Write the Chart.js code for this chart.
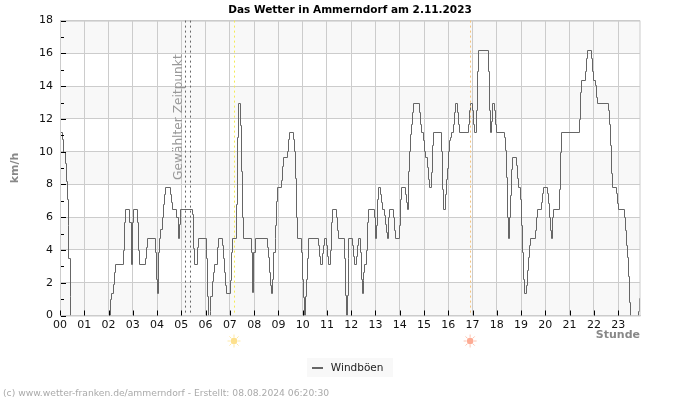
<!DOCTYPE html>
<html>
<head>
<meta charset="utf-8">
<title>Das Wetter in Ammerndorf</title>
<script src="https://cdn.jsdelivr.net/npm/chart.js@4"></script>
<style>
    html, body { margin: 0; background: #fff; }
    #wrap { width: 700px; height: 400px; }
</style>
</head>
<body>
<div id="wrap"><canvas id="chart"></canvas></div>
<script>
const chartTitle = 'Das Wetter in Ammerndorf am 2.11.2023';
const footerText = '(c) www.wetter-franken.de/ammerndorf - Erstellt: 08.08.2024 06:20:30';
const seriesName = 'Windböen';
const hourLabels = ['00', '01', '02', '03', '04', '05', '06', '07', '08', '09', '10', '11',
    '12', '13', '14', '15', '16', '17', '18', '19', '20', '21', '22', '23'];

// time the value changes (hours); null = no line drawn
const gustHours = [
    0, 0.02, 0.09, 0.14, 0.19, 0.23, 0.27, 0.31, 0.35, 0.40, 0.42, 0.43,
    2.04, 2.05, 2.10, 2.18, 2.22, 2.26, 2.59, 2.65, 2.69, 2.84, 2.91, 2.95, 3.00, 3.17, 3.21, 3.25, 3.51, 3.56, 3.60, 3.91, 3.95, 3.99,
    4.03, 4.07, 4.14, 4.19, 4.23, 4.27, 4.31, 4.52, 4.56, 4.60, 4.79, 4.85, 4.89, 4.94, 5.42, 5.46, 5.52, 5.64, 5.70, 6.03, 6.07, 6.11, 6.13,
    6.16, 6.17, 6.20, 6.26, 6.30, 6.36, 6.46, 6.52, 6.67, 6.71, 6.75, 6.81, 6.85, 7.00, 7.04, 7.10, 7.26, 7.30, 7.35, 7.43, 7.47, 7.51, 7.55, 7.88, 7.92, 7.96,
    8.05, 8.54, 8.58, 8.62, 8.66, 8.71, 8.75, 8.79, 8.84, 8.87, 8.91, 8.95, 9.12, 9.16, 9.20, 9.36, 9.41, 9.45, 9.60, 9.64, 9.69, 9.74, 9.78, 9.93, 9.97,
    10.01, 10.05, 10.07, 10.09, 10.10, 10.13, 10.17, 10.21, 10.63, 10.67, 10.72, 10.81, 10.85, 10.89, 10.97, 11.00, 11.04, 11.12, 11.16, 11.20, 11.37, 11.41, 11.45, 11.71, 11.75, 11.80, 11.81, 11.85, 11.88,
    12.03, 12.07, 12.11, 12.19, 12.23, 12.27, 12.36, 12.40, 12.44, 12.47, 12.50, 12.54, 12.62, 12.66, 12.70, 12.93, 12.97,
    13.02, 13.06, 13.10, 13.18, 13.22, 13.26, 13.34, 13.39, 13.43, 13.47, 13.51, 13.55, 13.72, 13.76, 13.80, 13.96,
    14.00, 14.05, 14.21, 14.25, 14.29, 14.33, 14.37, 14.42, 14.46, 14.50, 14.54, 14.79, 14.83, 14.87, 14.95, 14.99,
    15.03, 15.12, 15.16, 15.20, 15.28, 15.32, 15.36, 15.69, 15.73, 15.78, 15.86, 15.90, 15.94, 15.98,
    16.02, 16.06, 16.12, 16.19, 16.23, 16.27, 16.35, 16.39, 16.43, 16.81, 16.85, 16.89, 16.97,
    17.01, 17.05, 17.13, 17.18, 17.22, 17.63, 17.67, 17.71, 17.75, 17.79, 17.88, 17.92, 17.96,
    18.29, 18.33, 18.37, 18.41, 18.45, 18.49, 18.54, 18.58, 18.62, 18.78, 18.82, 18.87, 18.95, 18.99,
    19.03, 19.07, 19.11, 19.20, 19.24, 19.28, 19.32, 19.36, 19.57, 19.61, 19.65, 19.81, 19.85, 19.90,
    20.06, 20.10, 20.14, 20.18, 20.22, 20.27, 20.31, 20.55, 20.60, 20.64,
    21.38, 21.42, 21.46, 21.63, 21.67, 21.71, 21.87, 21.91, 21.96,
    22.04, 22.08, 22.12, 22.57, 22.61, 22.66, 22.70, 22.74, 22.90, 22.94, 22.99,
    23.23, 23.27, 23.32, 23.36, 23.40, 23.44, 23.48, 23.50,
    23.81, 23.82, 23.85, 23.90
];
const gustKmh = [
    11.2, 11.2, 10.8, 10.0, 9.3, 8.2, 7.1, 5.5, 3.5, 1.2, 0, null,
    0, 1.0, 1.4, 1.9, 2.65, 3.15, 4.0, 5.7, 6.5, 5.7, 3.15, 5.7, 6.5, 5.7, 4.0, 3.15, 3.5, 4.2, 4.7, 3.9, 2.2, 1.35,
    3.9, 4.7, 5.3, 6.0, 6.8, 7.4, 7.85, 7.4, 6.9, 6.5, 6.0, 4.7, 5.6, 6.5, 6.2, 4.1, 3.15, 4.2, 4.7, 3.5, 1.2, 0, null,
    0, 0.3, 1.2, 2.1, 2.65, 3.15, 4.2, 4.7, 4.3, 3.5, 2.65, 1.85, 1.4, 2.15, 3.85, 4.7, 6.8, 10.9, 13, 11.6, 8.85, 6.0, 4.7, 3.85, 1.45, 3.85,
    4.7, 4.2, 3.6, 2.65, 1.85, 1.4, 2.25, 3.85, 4.7, 5.5, 7.0, 7.85, 8.3, 9.15, 9.7, 10.05, 10.75, 11.2, 10.75, 10.05, 8.4, 6.0, 4.7, 3.85, 2.2,
    1.1, 0, null, 0, 1.2, 2.25, 3.5, 4.7, 4.3, 3.65, 3.15, 3.8, 4.3, 4.7, 4.3, 3.65, 3.15, 4.0, 5.7, 6.5, 6.0, 5.2, 4.7, 3.5, 1.25, 0, 1.25, 3.5, 4.7,
    4.3, 3.65, 3.15, 3.65, 4.3, 4.7, 3.9, 2.25, 1.4, 2.15, 2.65, 3.15, 4.0, 5.7, 6.5, 6.0, 4.7,
    5.5, 7.1, 7.85, 7.4, 6.9, 6.5, 6.15, 5.6, 5.1, 4.7, 6.0, 6.5, 6.0, 5.2, 4.7, 5.5,
    7.1, 7.85, 7.4, 6.9, 6.5, 8.85, 10.05, 11.1, 11.7, 12.45, 13, 12.45, 11.7, 11.2, 10.7, 10.05,
    9.7, 9.05, 8.35, 7.85, 8.75, 10.4, 11.2, 10.05, 7.7, 6.5, 7.4, 8.35, 9.0, 10.05,
    10.7, 10.9, 11.2, 11.7, 12.4, 13, 12.45, 11.7, 11.2, 11.7, 12.55, 13, 12.55,
    11.7, 11.2, 12.55, 14.95, 16.2, 14.95, 12.55, 11.2, 11.9, 13, 12.55, 11.7, 11.2,
    10.9, 10.1, 8.45, 6.0, 4.7, 6.0, 7.35, 8.95, 9.7, 9.2, 8.4, 7.85, 7.1, 5.5,
    3.9, 2.25, 1.4, 1.85, 2.75, 3.6, 4.3, 4.7, 5.2, 6.0, 6.5, 6.95, 7.45, 7.85,
    7.45, 6.85, 6.0, 5.2, 4.7, 6.0, 6.5, 7.75, 10, 11.2,
    12, 13.65, 14.4, 14.9, 15.7, 16.2, 15.7, 14.9, 14.4,
    14.05, 13.35, 13, 12.55, 11.7, 10.4, 8.7, 7.85, 7.45, 6.85, 6.5,
    6.0, 5.2, 4.3, 3.6, 2.4, 0.85, 0, null,
    0, 0.3, 1.05, 1.05
];

const yMax = 18;
const yStep = 2;
const xEnd = 23.9;
const shadedBands = [[0, 2], [4, 6], [8, 10], [12, 14], [16, 18]];
const yMinorTicks = [1, 3, 5, 7, 9, 11, 13, 15, 17];
const selectedHours = [5.17, 5.35];
const sunriseHour = 7.17;
const sunsetHour = 16.9;

const gustPoints = gustHours.map((h, i) => ({x: h, y: gustKmh[i]}));

const fontName = '"DejaVu Sans", sans-serif';

function legendSwatch() {
    const c = document.createElement('canvas');
    c.width = 11;
    c.height = 2;
    const g = c.getContext('2d');
    g.fillStyle = '#666666';
    g.fillRect(0, 0, 11, 2);
    return c;
}

function drawSun(ctx, x, y, core, ray) {
    ctx.save();
    ctx.strokeStyle = ray;
    ctx.lineWidth = 1;
    for (let i = 0; i < 8; i++) {
        const a = i * Math.PI / 4;
        ctx.beginPath();
        ctx.moveTo(x + Math.cos(a) * 3.5, y + Math.sin(a) * 3.5);
        ctx.lineTo(x + Math.cos(a) * 6.5, y + Math.sin(a) * 6.5);
        ctx.stroke();
    }
    ctx.fillStyle = core;
    ctx.beginPath();
    ctx.arc(x, y, 3.2, 0, Math.PI * 2);
    ctx.fill();
    ctx.restore();
}

const backdrop = {
    id: 'backdrop',
    afterLayout(chart) {
        chart.legend.left -= 4;
        chart.legend.right -= 4;
    },
    // keep the step line on whole pixels, the way the original is drawn
    afterDatasetsUpdate(chart) {
        chart.getDatasetMeta(0).data.forEach(p => {
            p.x = Math.round(p.x) + 0.5;
            if (!p.skip) {
                p.y = Math.round(p.y) + 0.5;
            }
        });
    },
    beforeDraw(chart) {
        const ctx = chart.ctx;
        const area = chart.chartArea;
        const y = chart.scales.y;
        ctx.save();
        ctx.fillStyle = '#f8f8f8';
        shadedBands.forEach(b => {
            const top = y.getPixelForValue(b[1]);
            ctx.fillRect(area.left, top, area.width, y.getPixelForValue(b[0]) - top);
        });
        // legend plate
        ctx.fillRect(307, 358, 86, 19);
        ctx.restore();
    },
    afterDatasetsDraw(chart) {
        const ctx = chart.ctx;
        const area = chart.chartArea;
        const x = chart.scales.x;
        const y = chart.scales.y;
        ctx.save();
        ctx.lineWidth = 1;

        // frame
        ctx.strokeStyle = '#cccccc';
        ctx.strokeRect(area.left + 0.5, area.top + 0.5, area.width - 0.5, area.height);

        // short black ticks inside the plot
        ctx.strokeStyle = '#000000';
        ctx.beginPath();
        x.ticks.forEach(t => {
            const px = Math.round(x.getPixelForValue(t.value)) + 0.5;
            ctx.moveTo(px, area.bottom);
            ctx.lineTo(px, area.bottom - 5);
        });
        y.ticks.forEach(t => {
            const py = Math.round(y.getPixelForValue(t.value)) + 0.5;
            ctx.moveTo(area.left + 1, py);
            ctx.lineTo(area.left + 6, py);
        });
        yMinorTicks.forEach(v => {
            const py = Math.round(y.getPixelForValue(v)) + 0.5;
            ctx.moveTo(area.left + 1, py);
            ctx.lineTo(area.left + 4, py);
        });
        ctx.stroke();

        // marked times
        ctx.setLineDash([2, 3]);
        ctx.strokeStyle = '#666666';
        selectedHours.forEach(h => {
            const px = Math.round(x.getPixelForValue(h)) + 0.5;
            ctx.beginPath();
            ctx.moveTo(px, area.top);
            ctx.lineTo(px, area.bottom);
            ctx.stroke();
        });
        [[sunriseHour, '#f5ea55'], [sunsetHour, '#f5c27a']].forEach(m => {
            const px = Math.round(x.getPixelForValue(m[0])) + 0.5;
            ctx.strokeStyle = m[1];
            ctx.beginPath();
            ctx.moveTo(px, area.top);
            ctx.lineTo(px, area.bottom);
            ctx.stroke();
        });
        ctx.setLineDash([]);

        drawSun(ctx, x.getPixelForValue(sunriseHour), 341, '#fde08c', '#fde9a8');
        drawSun(ctx, x.getPixelForValue(sunsetHour), 341, '#fdab94', '#fdc4b0');

        // label next to the selected time
        ctx.fillStyle = '#999999';
        ctx.font = '12.2px ' + fontName;
        ctx.textAlign = 'left';
        ctx.textBaseline = 'middle';
        ctx.translate(179, 180);
        ctx.rotate(-Math.PI / 2);
        ctx.fillText('Gewählter Zeitpunkt', 0, 0);
        ctx.restore();

        ctx.save();
        ctx.fillStyle = '#aaaaaa';
        ctx.font = '9.2px ' + fontName;
        ctx.textBaseline = 'middle';
        ctx.fillText(footerText, 3, 393.5);
        ctx.restore();
    }
};

new Chart(document.getElementById('chart'), {
    type: 'line',
    data: {
        datasets: [{
            label: seriesName,
            data: gustPoints,
            stepped: true,
            spanGaps: false,
            borderColor: '#666666',
            backgroundColor: '#666666',
            borderWidth: 1,
            pointRadius: 0,
            pointStyle: legendSwatch()
        }]
    },
    options: {
        responsive: true,
        maintainAspectRatio: false,
        animation: false,
        layout: {padding: {left: 0, right: 0, top: 4, bottom: 16.5}},
        plugins: {
            tooltip: {enabled: false},
            title: {
                display: true,
                text: chartTitle,
                color: '#000000',
                font: {family: fontName, size: 10.5, weight: 'bold'},
                padding: {top: 0, bottom: 4}
            },
            legend: {
                display: true,
                position: 'bottom',
                labels: {
                    usePointStyle: true,
                    pointStyleWidth: 17,
                    color: '#222222',
                    font: {family: fontName, size: 10.5},
                    padding: 4
                }
            }
        },
        scales: {
            x: {
                type: 'linear',
                min: 0,
                max: xEnd,
                grid: {color: '#cccccc', drawTicks: false},
                border: {color: '#cccccc'},
                ticks: {
                    stepSize: 1,
                    includeBounds: false,
                    autoSkip: false,
                    maxRotation: 0,
                    padding: 3,
                    color: '#111111',
                    font: {family: fontName, size: 11},
                    callback: v => hourLabels[v]
                },
                title: {
                    display: true,
                    text: 'Stunde',
                    align: 'end',
                    color: '#888888',
                    font: {family: fontName, size: 11, weight: 'bold'},
                    padding: {top: 0, bottom: 17}
                },
                afterFit: s => { s.height = 43.5; }
            },
            y: {
                min: 0,
                max: yMax,
                grid: {color: '#cccccc', drawTicks: false},
                border: {color: '#cccccc'},
                ticks: {
                    stepSize: yStep,
                    padding: 7,
                    color: '#111111',
                    font: {family: fontName, size: 11}
                },
                title: {
                    display: true,
                    text: 'km/h',
                    color: '#888888',
                    font: {family: fontName, size: 11, weight: 'bold'},
                    padding: {top: 9, bottom: 0}
                },
                afterFit: s => { s.width = 60; }
            },
            // keeps the right margin without moving title and legend off centre
            rightMargin: {
                position: 'right',
                display: true,
                grid: {display: false},
                border: {display: false},
                ticks: {display: false},
                afterFit: s => { s.width = 60; }
            }
        }
    },
    plugins: [backdrop]
});
</script>
</body>
</html>
